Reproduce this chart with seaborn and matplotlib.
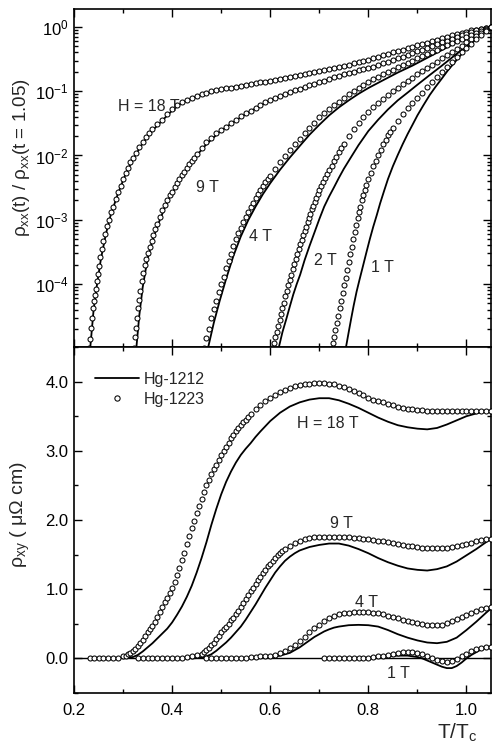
import matplotlib
matplotlib.use("Agg")
import matplotlib.pyplot as plt
import seaborn as sns
from matplotlib.lines import Line2D
from matplotlib.ticker import (LogLocator, MultipleLocator, FormatStrFormatter,
                               NullFormatter)

# ---------------------------------------------------------------------------
# Normalised longitudinal resistivity rho_xx(t)/rho_xx(t=1.05), t = T/Tc
# pairs of (t, ratio); "1212" drawn as lines, "1223" drawn as open circles
# ---------------------------------------------------------------------------
rxx_18T_1223 = [
    (0.231, 1.0e-5), (0.233, 1.4e-5), (0.235, 2.1e-5), (0.237, 3.0e-5), (0.239, 4.2e-5),
    (0.241, 5.4e-5), (0.243, 6.8e-5), (0.245, 8.5e-5), (0.247, 1.1e-4), (0.249, 1.45e-4),
    (0.251, 1.9e-4), (0.254, 2.6e-4), (0.257, 3.5e-4), (0.260, 4.6e-4), (0.264, 6.0e-4),
    (0.268, 7.9e-4), (0.272, 1.0e-3), (0.276, 1.3e-3), (0.280, 1.6e-3), (0.285, 2.1e-3),
    (0.290, 2.7e-3), (0.295, 3.4e-3), (0.300, 4.3e-3), (0.305, 5.4e-3), (0.310, 6.5e-3),
    (0.315, 7.8e-3), (0.320, 9.1e-3), (0.326, 1.1e-2), (0.333, 1.35e-2), (0.340, 1.6e-2),
    (0.347, 1.95e-2), (0.353, 2.2e-2), (0.360, 2.6e-2), (0.370, 3.1e-2), (0.380, 3.6e-2),
    (0.390, 4.4e-2), (0.400, 5.2e-2), (0.410, 6.0e-2), (0.420, 6.8e-2), (0.430, 7.4e-2),
    (0.440, 7.9e-2), (0.450, 8.5e-2), (0.460, 9.0e-2), (0.470, 9.5e-2), (0.480, 0.100),
    (0.490, 0.105), (0.500, 0.108), (0.510, 0.111), (0.520, 0.114), (0.530, 0.117),
    (0.540, 0.121), (0.550, 0.126), (0.560, 0.129), (0.570, 0.133), (0.580, 0.137),
    (0.590, 0.141), (0.600, 0.146), (0.610, 0.151), (0.620, 0.156), (0.630, 0.162),
    (0.640, 0.168), (0.650, 0.174), (0.660, 0.180), (0.670, 0.186), (0.680, 0.193),
    (0.690, 0.200), (0.700, 0.207), (0.710, 0.214), (0.720, 0.221), (0.730, 0.229),
    (0.740, 0.237), (0.750, 0.245), (0.760, 0.257), (0.770, 0.270), (0.780, 0.282),
    (0.790, 0.295), (0.800, 0.309), (0.810, 0.324), (0.820, 0.342), (0.830, 0.360),
    (0.840, 0.380), (0.850, 0.400), (0.860, 0.420), (0.870, 0.440), (0.880, 0.465),
    (0.890, 0.490), (0.900, 0.515), (0.910, 0.540), (0.920, 0.570), (0.930, 0.600),
    (0.940, 0.635), (0.950, 0.670), (0.960, 0.705), (0.970, 0.740), (0.980, 0.775),
    (0.990, 0.810), (1.000, 0.845), (1.010, 0.880), (1.020, 0.910), (1.030, 0.940),
    (1.040, 0.970), (1.050, 1.0),
]
rxx_18T_1212 = [
    (0.233, 1.0e-5), (0.240, 4.0e-5), (0.247, 1.0e-4), (0.255, 2.5e-4), (0.265, 6.0e-4),
    (0.275, 1.2e-3), (0.290, 2.6e-3), (0.305, 5.1e-3), (0.320, 8.7e-3), (0.340, 1.55e-2),
    (0.360, 2.45e-2), (0.380, 3.5e-2), (0.400, 5.0e-2), (0.420, 6.6e-2), (0.450, 8.3e-2),
    (0.500, 0.107), (0.550, 0.124), (0.600, 0.145), (0.650, 0.172), (0.700, 0.204),
    (0.750, 0.243), (0.800, 0.300), (0.850, 0.390), (0.900, 0.510), (0.950, 0.660),
    (1.000, 0.840), (1.050, 1.0),
]
rxx_9T_1223 = [
    (0.322, 1.0e-5), (0.324, 1.5e-5), (0.326, 2.1e-5), (0.328, 3.0e-5), (0.330, 4.2e-5),
    (0.332, 5.6e-5), (0.335, 7.9e-5), (0.338, 1.1e-4), (0.341, 1.5e-4), (0.344, 1.95e-4),
    (0.347, 2.45e-4), (0.350, 3.0e-4), (0.354, 3.8e-4), (0.358, 4.7e-4), (0.362, 5.8e-4),
    (0.366, 7.1e-4), (0.370, 8.7e-4), (0.375, 1.1e-3), (0.380, 1.4e-3), (0.385, 1.7e-3),
    (0.390, 2.0e-3), (0.395, 2.4e-3), (0.400, 2.75e-3), (0.405, 3.2e-3), (0.410, 3.7e-3),
    (0.415, 4.3e-3), (0.420, 4.9e-3), (0.425, 5.6e-3), (0.430, 6.5e-3), (0.435, 7.4e-3),
    (0.440, 8.3e-3), (0.445, 9.3e-3), (0.450, 1.05e-2), (0.460, 1.3e-2), (0.470, 1.6e-2),
    (0.480, 1.9e-2), (0.490, 2.25e-2), (0.500, 2.5e-2), (0.510, 2.8e-2), (0.520, 3.2e-2),
    (0.530, 3.6e-2), (0.540, 4.1e-2), (0.550, 4.5e-2), (0.560, 5.0e-2), (0.570, 5.5e-2),
    (0.580, 6.2e-2), (0.590, 6.8e-2), (0.600, 7.4e-2), (0.610, 7.9e-2), (0.620, 8.5e-2),
    (0.630, 9.1e-2), (0.640, 9.8e-2), (0.650, 0.104), (0.660, 0.110), (0.670, 0.116),
    (0.680, 0.123), (0.690, 0.130), (0.700, 0.138), (0.710, 0.146), (0.720, 0.155),
    (0.730, 0.164), (0.740, 0.174), (0.750, 0.183), (0.760, 0.193), (0.770, 0.201),
    (0.780, 0.210), (0.790, 0.220), (0.800, 0.230), (0.810, 0.242), (0.820, 0.255),
    (0.830, 0.271), (0.840, 0.288), (0.850, 0.305), (0.860, 0.324), (0.870, 0.345),
    (0.880, 0.367), (0.890, 0.391), (0.900, 0.417), (0.910, 0.444), (0.920, 0.473),
    (0.930, 0.504), (0.940, 0.537), (0.950, 0.572), (0.960, 0.610), (0.970, 0.648),
    (0.980, 0.690), (0.990, 0.736), (1.000, 0.785), (1.010, 0.832), (1.020, 0.880),
    (1.030, 0.925), (1.040, 0.966), (1.050, 1.0),
]
rxx_9T_1212 = [
    (0.327, 1.0e-5), (0.333, 3.2e-5), (0.340, 8.9e-5), (0.350, 2.5e-4), (0.360, 4.8e-4),
    (0.375, 1.0e-3), (0.390, 1.9e-3), (0.410, 3.5e-3), (0.430, 6.0e-3), (0.450, 1.0e-2),
    (0.470, 1.5e-2), (0.500, 2.45e-2), (0.530, 3.5e-2), (0.560, 4.9e-2), (0.600, 7.2e-2),
    (0.650, 0.102), (0.700, 0.136), (0.750, 0.184), (0.800, 0.224), (0.850, 0.300),
    (0.900, 0.407), (0.950, 0.562), (1.000, 0.776), (1.050, 1.0),
]
rxx_4T_1223 = [
    (0.465, 1.0e-5), (0.470, 1.45e-5), (0.475, 2.0e-5), (0.480, 2.95e-5), (0.485, 4.1e-5),
    (0.490, 5.5e-5), (0.495, 7.6e-5), (0.500, 1.0e-4), (0.505, 1.3e-4), (0.510, 1.75e-4),
    (0.515, 2.3e-4), (0.520, 2.95e-4), (0.525, 3.9e-4), (0.530, 5.0e-4), (0.535, 6.2e-4),
    (0.540, 7.4e-4), (0.545, 9.1e-4), (0.550, 1.1e-3), (0.555, 1.3e-3), (0.560, 1.6e-3),
    (0.565, 1.85e-3), (0.570, 2.15e-3), (0.575, 2.5e-3), (0.580, 2.9e-3), (0.585, 3.3e-3),
    (0.590, 3.8e-3), (0.595, 4.3e-3), (0.600, 4.8e-3), (0.610, 6.2e-3), (0.620, 7.8e-3),
    (0.630, 9.8e-3), (0.640, 1.2e-2), (0.650, 1.5e-2), (0.660, 1.8e-2), (0.670, 2.25e-2),
    (0.680, 2.7e-2), (0.690, 3.2e-2), (0.700, 3.9e-2), (0.710, 4.5e-2), (0.720, 5.2e-2),
    (0.730, 6.0e-2), (0.740, 6.9e-2), (0.750, 7.9e-2), (0.760, 8.9e-2), (0.770, 0.100),
    (0.780, 0.112), (0.790, 0.124), (0.800, 0.138), (0.810, 0.152), (0.820, 0.166),
    (0.830, 0.182), (0.840, 0.200), (0.850, 0.216), (0.860, 0.234), (0.870, 0.254),
    (0.880, 0.275), (0.890, 0.299), (0.900, 0.324), (0.910, 0.351), (0.920, 0.380),
    (0.930, 0.409), (0.940, 0.440), (0.950, 0.479), (0.960, 0.520), (0.970, 0.560),
    (0.980, 0.600), (0.990, 0.650), (1.000, 0.700), (1.010, 0.755), (1.020, 0.810),
    (1.030, 0.870), (1.040, 0.930), (1.050, 1.0),
]
rxx_4T_1212 = [
    (0.473, 1.0e-5), (0.485, 2.5e-5), (0.497, 5.5e-5), (0.510, 1.2e-4), (0.525, 2.75e-4),
    (0.540, 5.5e-4), (0.555, 9.8e-4), (0.570, 1.6e-3), (0.585, 2.5e-3), (0.600, 3.7e-3),
    (0.620, 6.0e-3), (0.640, 9.3e-3), (0.660, 1.4e-2), (0.680, 2.1e-2), (0.700, 3.0e-2),
    (0.720, 4.2e-2), (0.740, 5.6e-2), (0.760, 7.2e-2), (0.780, 9.1e-2), (0.800, 0.112),
    (0.830, 0.148), (0.860, 0.195), (0.890, 0.250), (0.920, 0.330), (0.950, 0.436),
    (0.980, 0.575), (1.010, 0.740), (1.030, 0.870), (1.050, 1.0),
]
rxx_2T_1223 = [
    (0.604, 1.0e-5), (0.607, 1.2e-5), (0.610, 1.5e-5), (0.613, 1.8e-5), (0.616, 2.2e-5),
    (0.619, 2.75e-5), (0.622, 3.4e-5), (0.625, 4.2e-5), (0.628, 5.1e-5), (0.631, 6.5e-5),
    (0.634, 7.9e-5), (0.637, 9.5e-5), (0.640, 1.15e-4), (0.643, 1.4e-4), (0.646, 1.7e-4),
    (0.649, 2.05e-4), (0.652, 2.45e-4), (0.655, 2.95e-4), (0.658, 3.5e-4), (0.661, 4.2e-4),
    (0.664, 4.9e-4), (0.667, 5.8e-4), (0.670, 6.8e-4), (0.673, 7.8e-4), (0.676, 9.1e-4),
    (0.679, 1.07e-3), (0.682, 1.23e-3), (0.685, 1.45e-3), (0.688, 1.65e-3), (0.691, 1.9e-3),
    (0.694, 2.2e-3), (0.697, 2.5e-3), (0.700, 2.9e-3), (0.704, 3.4e-3), (0.708, 3.9e-3),
    (0.712, 4.5e-3), (0.716, 5.1e-3), (0.720, 5.9e-3), (0.725, 6.9e-3), (0.730, 8.1e-3),
    (0.735, 9.5e-3), (0.740, 1.12e-2), (0.745, 1.3e-2), (0.750, 1.5e-2), (0.760, 2.0e-2),
    (0.770, 2.6e-2), (0.780, 3.2e-2), (0.790, 4.0e-2), (0.800, 4.8e-2), (0.810, 5.6e-2),
    (0.820, 6.6e-2), (0.830, 7.6e-2), (0.840, 8.7e-2), (0.850, 0.100), (0.860, 0.112),
    (0.870, 0.129), (0.880, 0.145), (0.890, 0.162), (0.900, 0.182), (0.910, 0.205),
    (0.920, 0.229), (0.930, 0.257), (0.940, 0.288), (0.950, 0.324), (0.960, 0.363),
    (0.970, 0.407), (0.980, 0.457), (0.990, 0.513), (1.000, 0.575), (1.010, 0.645),
    (1.020, 0.724), (1.030, 0.800), (1.040, 0.890), (1.050, 1.0),
]
rxx_2T_1212 = [
    (0.617, 1.0e-5), (0.625, 1.8e-5), (0.633, 2.9e-5), (0.640, 4.5e-5), (0.647, 6.9e-5),
    (0.654, 1.0e-4), (0.661, 1.4e-4), (0.670, 2.35e-4), (0.680, 3.9e-4), (0.690, 6.3e-4),
    (0.700, 1.02e-3), (0.710, 1.6e-3), (0.720, 2.3e-3), (0.730, 3.2e-3), (0.740, 4.5e-3),
    (0.750, 6.2e-3), (0.765, 9.5e-3), (0.780, 1.45e-2), (0.800, 2.4e-2), (0.820, 3.6e-2),
    (0.840, 5.2e-2), (0.860, 7.2e-2), (0.880, 9.5e-2), (0.900, 0.126), (0.925, 0.178),
    (0.950, 0.250), (0.975, 0.355), (1.000, 0.500), (1.025, 0.710), (1.050, 1.0),
]
rxx_1T_1223 = [
    (0.727, 1.2e-5), (0.730, 1.5e-5), (0.733, 1.95e-5), (0.736, 2.5e-5), (0.739, 3.2e-5),
    (0.742, 4.2e-5), (0.745, 5.5e-5), (0.748, 7.2e-5), (0.751, 9.5e-5), (0.754, 1.26e-4),
    (0.757, 1.65e-4), (0.760, 2.2e-4), (0.763, 2.9e-4), (0.766, 3.8e-4), (0.769, 5.0e-4),
    (0.772, 6.5e-4), (0.775, 8.3e-4), (0.778, 1.05e-3), (0.781, 1.3e-3), (0.784, 1.6e-3),
    (0.787, 2.0e-3), (0.790, 2.4e-3), (0.793, 2.9e-3), (0.796, 3.5e-3), (0.800, 4.3e-3),
    (0.805, 5.4e-3), (0.810, 6.8e-3), (0.815, 8.3e-3), (0.820, 1.02e-2), (0.825, 1.23e-2),
    (0.830, 1.5e-2), (0.835, 1.75e-2), (0.840, 2.05e-2), (0.845, 2.35e-2), (0.850, 2.7e-2),
    (0.860, 3.5e-2), (0.870, 4.4e-2), (0.880, 5.4e-2), (0.890, 6.6e-2), (0.900, 7.9e-2),
    (0.910, 9.5e-2), (0.920, 0.115), (0.930, 0.138), (0.940, 0.166), (0.950, 0.200),
    (0.960, 0.240), (0.970, 0.280), (0.980, 0.340), (0.990, 0.400), (1.000, 0.470),
    (1.010, 0.550), (1.020, 0.650), (1.030, 0.760), (1.040, 0.870), (1.050, 1.0),
]
rxx_1T_1212 = [
    (0.754, 1.0e-5), (0.760, 1.8e-5), (0.765, 2.9e-5), (0.770, 4.6e-5), (0.776, 7.6e-5),
    (0.782, 1.17e-4), (0.789, 1.9e-4), (0.796, 3.1e-4), (0.803, 5.0e-4), (0.810, 7.8e-4),
    (0.817, 1.17e-3), (0.824, 1.8e-3), (0.832, 2.8e-3), (0.840, 4.3e-3), (0.850, 6.8e-3),
    (0.860, 1.02e-2), (0.870, 1.5e-2), (0.880, 2.15e-2), (0.890, 3.0e-2), (0.900, 4.2e-2),
    (0.912, 6.0e-2), (0.925, 8.7e-2), (0.937, 0.117), (0.950, 0.158), (0.962, 0.210),
    (0.975, 0.275), (0.987, 0.355), (1.000, 0.457), (1.013, 0.575), (1.025, 0.710),
    (1.038, 0.850), (1.050, 1.0),
]

# ---------------------------------------------------------------------------
# Hall resistivity rho_xy in micro-ohm cm, pairs of (t, rho_xy)
# ---------------------------------------------------------------------------
rxy_18T_1223 = [
    (0.233, 0.0), (0.240, 0.0), (0.250, 0.0), (0.260, 0.0), (0.270, 0.0), (0.280, 0.005),
    (0.290, 0.01), (0.300, 0.03), (0.305, 0.04), (0.310, 0.06), (0.315, 0.08), (0.320, 0.11),
    (0.325, 0.14), (0.330, 0.18), (0.335, 0.22), (0.340, 0.27), (0.345, 0.32), (0.350, 0.38),
    (0.355, 0.42), (0.360, 0.47), (0.365, 0.53), (0.370, 0.60), (0.375, 0.67), (0.380, 0.74),
    (0.385, 0.81), (0.390, 0.88), (0.395, 0.95), (0.400, 1.02), (0.405, 1.11), (0.410, 1.20),
    (0.415, 1.31), (0.420, 1.42), (0.425, 1.53), (0.430, 1.65), (0.435, 1.77), (0.440, 1.88),
    (0.445, 1.99), (0.450, 2.10), (0.455, 2.20), (0.460, 2.30), (0.465, 2.40), (0.470, 2.50),
    (0.475, 2.58), (0.480, 2.66), (0.485, 2.73), (0.490, 2.80), (0.495, 2.87), (0.500, 2.94),
    (0.505, 3.00), (0.510, 3.06), (0.515, 3.12), (0.520, 3.18), (0.525, 3.23), (0.530, 3.28),
    (0.535, 3.33), (0.540, 3.37), (0.545, 3.41), (0.550, 3.45), (0.555, 3.49), (0.560, 3.53),
    (0.570, 3.60), (0.580, 3.66), (0.590, 3.72), (0.600, 3.77), (0.610, 3.81), (0.620, 3.85),
    (0.630, 3.88), (0.640, 3.91), (0.650, 3.93), (0.660, 3.95), (0.670, 3.96), (0.680, 3.97),
    (0.690, 3.98), (0.700, 3.98), (0.710, 3.98), (0.720, 3.97), (0.730, 3.96), (0.740, 3.94),
    (0.750, 3.92), (0.760, 3.89), (0.770, 3.86), (0.780, 3.83), (0.790, 3.80), (0.800, 3.77),
    (0.810, 3.74), (0.820, 3.72), (0.830, 3.70), (0.840, 3.68), (0.850, 3.66), (0.860, 3.64),
    (0.870, 3.62), (0.880, 3.61), (0.890, 3.60), (0.900, 3.59), (0.910, 3.585), (0.920, 3.58),
    (0.930, 3.58), (0.940, 3.58), (0.950, 3.58), (0.960, 3.58), (0.970, 3.575), (0.980, 3.57),
    (0.990, 3.57), (1.000, 3.57), (1.010, 3.57), (1.020, 3.57), (1.030, 3.57), (1.040, 3.57),
    (1.050, 3.57),
]
rxy_18T_1212 = [
    (0.300, 0.0), (0.310, 0.01), (0.320, 0.02), (0.330, 0.05), (0.340, 0.10), (0.350, 0.16),
    (0.360, 0.22), (0.370, 0.29), (0.380, 0.36), (0.390, 0.43), (0.400, 0.52), (0.410, 0.63),
    (0.420, 0.75), (0.430, 0.89), (0.440, 1.05), (0.450, 1.24), (0.460, 1.45), (0.470, 1.68),
    (0.480, 1.93), (0.490, 2.16), (0.500, 2.37), (0.510, 2.55), (0.520, 2.70), (0.530, 2.83),
    (0.540, 2.94), (0.550, 3.03), (0.560, 3.11), (0.570, 3.20), (0.580, 3.28), (0.600, 3.43),
    (0.620, 3.55), (0.640, 3.64), (0.660, 3.70), (0.680, 3.74), (0.700, 3.76), (0.720, 3.76),
    (0.740, 3.73), (0.760, 3.68), (0.780, 3.62), (0.800, 3.55), (0.820, 3.48), (0.840, 3.42),
    (0.860, 3.37), (0.880, 3.34), (0.900, 3.32), (0.920, 3.31), (0.940, 3.33), (0.960, 3.38),
    (0.980, 3.44), (1.000, 3.50), (1.020, 3.54), (1.040, 3.57), (1.050, 3.57),
]
rxy_9T_1223 = [
    (0.330, 0.0), (0.340, 0.0), (0.350, 0.0), (0.360, 0.0), (0.370, 0.0), (0.380, 0.0),
    (0.390, 0.0), (0.400, 0.0), (0.410, 0.005), (0.420, 0.01), (0.430, 0.02), (0.440, 0.03),
    (0.450, 0.05), (0.460, 0.07), (0.465, 0.09), (0.470, 0.12), (0.475, 0.15), (0.480, 0.19),
    (0.485, 0.23), (0.490, 0.28), (0.495, 0.33), (0.500, 0.38), (0.505, 0.42), (0.510, 0.46),
    (0.515, 0.50), (0.520, 0.55), (0.525, 0.59), (0.530, 0.64), (0.535, 0.69), (0.540, 0.75),
    (0.545, 0.80), (0.550, 0.86), (0.555, 0.91), (0.560, 0.97), (0.565, 1.02), (0.570, 1.08),
    (0.575, 1.13), (0.580, 1.18), (0.585, 1.23), (0.590, 1.28), (0.595, 1.33), (0.600, 1.37),
    (0.605, 1.41), (0.610, 1.45), (0.615, 1.49), (0.620, 1.52), (0.625, 1.55), (0.630, 1.58),
    (0.640, 1.63), (0.650, 1.67), (0.660, 1.70), (0.670, 1.72), (0.680, 1.74), (0.690, 1.75),
    (0.700, 1.755), (0.710, 1.76), (0.720, 1.76), (0.730, 1.76), (0.740, 1.76), (0.750, 1.755),
    (0.760, 1.75), (0.770, 1.745), (0.780, 1.74), (0.790, 1.73), (0.800, 1.72), (0.810, 1.71),
    (0.820, 1.70), (0.830, 1.69), (0.840, 1.68), (0.850, 1.67), (0.860, 1.66), (0.870, 1.645),
    (0.880, 1.63), (0.890, 1.62), (0.900, 1.61), (0.910, 1.60), (0.920, 1.59), (0.930, 1.59),
    (0.940, 1.59), (0.950, 1.595), (0.960, 1.60), (0.970, 1.61), (0.980, 1.62), (0.990, 1.64),
    (1.000, 1.66), (1.010, 1.675), (1.020, 1.69), (1.030, 1.705), (1.040, 1.72), (1.050, 1.73),
]
rxy_9T_1212 = [
    (0.440, 0.0), (0.460, 0.01), (0.470, 0.03), (0.480, 0.06), (0.490, 0.11), (0.500, 0.17),
    (0.510, 0.23), (0.520, 0.30), (0.530, 0.38), (0.540, 0.46), (0.550, 0.56), (0.560, 0.67),
    (0.570, 0.78), (0.580, 0.90), (0.590, 1.02), (0.600, 1.13), (0.610, 1.24), (0.620, 1.33),
    (0.630, 1.41), (0.640, 1.47), (0.650, 1.52), (0.660, 1.56), (0.680, 1.61), (0.700, 1.64),
    (0.720, 1.66), (0.740, 1.66), (0.760, 1.63), (0.780, 1.58), (0.800, 1.52), (0.820, 1.45),
    (0.840, 1.39), (0.860, 1.34), (0.880, 1.30), (0.900, 1.28), (0.920, 1.27), (0.940, 1.29),
    (0.960, 1.33), (0.980, 1.40), (1.000, 1.49), (1.020, 1.58), (1.040, 1.68), (1.050, 1.73),
]
rxy_4T_1223 = [
    (0.470, 0.0), (0.480, 0.0), (0.490, 0.0), (0.500, 0.0), (0.510, 0.0), (0.520, 0.0),
    (0.530, 0.0), (0.540, 0.005), (0.550, 0.01), (0.560, 0.015), (0.570, 0.02), (0.580, 0.03),
    (0.590, 0.035), (0.600, 0.04), (0.610, 0.05), (0.620, 0.08), (0.630, 0.11), (0.640, 0.15),
    (0.650, 0.20), (0.660, 0.25), (0.670, 0.31), (0.680, 0.38), (0.690, 0.44), (0.700, 0.49),
    (0.710, 0.54), (0.720, 0.58), (0.730, 0.61), (0.740, 0.635), (0.750, 0.65), (0.760, 0.66),
    (0.770, 0.67), (0.780, 0.675), (0.790, 0.675), (0.800, 0.67), (0.810, 0.66), (0.820, 0.65),
    (0.830, 0.635), (0.840, 0.62), (0.850, 0.60), (0.860, 0.58), (0.870, 0.56), (0.880, 0.54),
    (0.890, 0.525), (0.900, 0.51), (0.910, 0.50), (0.920, 0.49), (0.930, 0.485), (0.940, 0.485),
    (0.950, 0.49), (0.960, 0.51), (0.970, 0.54), (0.980, 0.57), (0.990, 0.60), (1.000, 0.63),
    (1.010, 0.66), (1.020, 0.69), (1.030, 0.71), (1.040, 0.73), (1.050, 0.74),
]
rxy_4T_1212 = [
    (0.550, 0.0), (0.580, 0.01), (0.600, 0.02), (0.620, 0.04), (0.630, 0.06), (0.640, 0.08),
    (0.650, 0.12), (0.660, 0.16), (0.670, 0.21), (0.680, 0.26), (0.690, 0.31), (0.700, 0.35),
    (0.710, 0.39), (0.720, 0.42), (0.730, 0.445), (0.740, 0.46), (0.750, 0.47), (0.760, 0.48),
    (0.780, 0.485), (0.800, 0.48), (0.820, 0.46), (0.840, 0.41), (0.860, 0.35), (0.880, 0.30),
    (0.900, 0.26), (0.920, 0.23), (0.940, 0.22), (0.960, 0.24), (0.980, 0.30), (1.000, 0.41),
    (1.020, 0.53), (1.040, 0.66), (1.050, 0.72),
]
rxy_1T_1223 = [
    (0.710, 0.0), (0.720, 0.0), (0.730, 0.0), (0.740, 0.0), (0.750, 0.0), (0.760, 0.0),
    (0.770, 0.0), (0.780, 0.005), (0.790, 0.005), (0.800, 0.01), (0.810, 0.02), (0.820, 0.03),
    (0.830, 0.04), (0.840, 0.05), (0.850, 0.065), (0.860, 0.08), (0.870, 0.09), (0.880, 0.095),
    (0.890, 0.09), (0.900, 0.08), (0.910, 0.06), (0.920, 0.04), (0.930, 0.01), (0.940, -0.02),
    (0.950, -0.04), (0.960, -0.05), (0.970, -0.04), (0.980, -0.01), (0.990, 0.03), (1.000, 0.07),
    (1.010, 0.10), (1.020, 0.13), (1.030, 0.15), (1.040, 0.165), (1.050, 0.17),
]
rxy_1T_1212 = [
    (0.720, 0.0), (0.760, 0.0), (0.800, 0.01), (0.840, 0.03), (0.860, 0.04), (0.880, 0.04),
    (0.900, 0.02), (0.910, 0.0), (0.920, -0.03), (0.930, -0.06), (0.940, -0.09), (0.950, -0.12),
    (0.960, -0.14), (0.970, -0.14), (0.980, -0.11), (0.990, -0.06), (1.000, 0.0), (1.010, 0.05),
    (1.020, 0.09), (1.030, 0.13), (1.040, 0.155), (1.050, 0.17),
]

# curve labels: (text, t, value)
top_labels = [("H = 18 T", 0.290, 0.0575), ("9 T", 0.449, 3.2e-3), ("4 T", 0.557, 5.4e-4),
              ("2 T", 0.690, 2.3e-4), ("1 T", 0.806, 1.8e-4)]
bottom_labels = [("H = 18 T", 0.655, 3.40), ("9 T", 0.722, 1.95), ("4 T", 0.773, 0.815),
                 ("1 T", 0.839, -0.22)]
legend_names = ["Hg-1212", "Hg-1223"]

sns.set_theme(style="ticks")
plt.rcParams["font.family"] = ["Liberation Sans", "DejaVu Sans"]
plt.rcParams["mathtext.fontset"] = "custom"
plt.rcParams["mathtext.rm"] = "Liberation Sans"
plt.rcParams["mathtext.it"] = "Liberation Sans:italic"
plt.rcParams["mathtext.bf"] = "Liberation Sans:bold"
plt.rcParams["axes.linewidth"] = 1.2

fig = plt.figure(figsize=(4.95, 7.48), dpi=100)
ax_top = fig.add_axes([0.1495, 0.5361, 0.8424, 0.4519])
ax_bot = fig.add_axes([0.1495, 0.0735, 0.8424, 0.4626], sharex=ax_top)

ax_top.set_yscale("log")


def draw_pair(ax, line_pts, circ_pts):
    lx, ly = zip(*line_pts)
    cx, cy = zip(*circ_pts)
    sns.lineplot(x=list(lx), y=list(ly), ax=ax, color="black", linewidth=1.3,
                 sort=False, estimator=None, zorder=2)
    sns.scatterplot(x=list(cx), y=list(cy), ax=ax, marker="o", s=13, color="white",
                    edgecolor="black", linewidth=0.75, zorder=3)


for line_pts, circ_pts in [(rxx_18T_1212, rxx_18T_1223), (rxx_9T_1212, rxx_9T_1223),
                           (rxx_4T_1212, rxx_4T_1223), (rxx_2T_1212, rxx_2T_1223),
                           (rxx_1T_1212, rxx_1T_1223)]:
    draw_pair(ax_top, line_pts, circ_pts)

ax_bot.axhline(0.0, color="black", linewidth=1.0, zorder=1)
for line_pts, circ_pts in [(rxy_18T_1212, rxy_18T_1223), (rxy_9T_1212, rxy_9T_1223),
                           (rxy_4T_1212, rxy_4T_1223), (rxy_1T_1212, rxy_1T_1223)]:
    draw_pair(ax_bot, line_pts, circ_pts)

for text, tx, ty in top_labels:
    ax_top.text(tx, ty, text, ha="left", va="center", fontsize=11.5, zorder=4)
for text, tx, ty in bottom_labels:
    ax_bot.text(tx, ty, text, ha="left", va="center", fontsize=11.5, zorder=4)

# axes ranges and ticks
ax_top.set_xlim(0.2, 1.05)
ax_top.set_ylim(1.05e-5, 1.9)
ax_bot.set_ylim(-0.5, 4.5)

ax_top.yaxis.set_major_locator(LogLocator(base=10, numticks=12))
ax_top.yaxis.set_minor_locator(LogLocator(base=10, subs=range(2, 10), numticks=12))
ax_top.yaxis.set_minor_formatter(NullFormatter())
ax_bot.xaxis.set_major_locator(MultipleLocator(0.2))
ax_bot.xaxis.set_minor_locator(MultipleLocator(0.1))
ax_bot.xaxis.set_major_formatter(FormatStrFormatter("%.1f"))
ax_bot.yaxis.set_major_locator(MultipleLocator(1.0))
ax_bot.yaxis.set_minor_locator(MultipleLocator(0.5))
ax_bot.yaxis.set_major_formatter(FormatStrFormatter("%.1f"))

for ax in (ax_top, ax_bot):
    ax.tick_params(which="both", direction="in", top=True, right=True,
                   width=1.0, labelsize=12, color="black", labelcolor="black")
    ax.tick_params(which="major", length=6)
    ax.tick_params(which="minor", length=3)
    ax.tick_params(axis="y", pad=4)
    ax.tick_params(axis="x", pad=7)
    for sp in ax.spines.values():
        sp.set_color("black")
        sp.set_linewidth(1.2)
ax_top.tick_params(axis="x", labelbottom=False)

ax_top.set_ylabel(r"ρ$_\mathregular{xx}$(t) / ρ$_\mathregular{xx}$(t = 1.05)", fontsize=13.5)
ax_bot.set_ylabel(r"ρ$_\mathregular{xy}$ ( μΩ cm)", fontsize=14)
ax_bot.set_xlabel(r"T/T$_\mathregular{c}$", fontsize=15)
ax_top.yaxis.set_label_coords(-0.10, 0.56)
ax_bot.yaxis.set_label_coords(-0.10, 0.515)
ax_bot.xaxis.set_label_coords(0.92, -0.082)

handles = [Line2D([], [], color="black", linewidth=1.3),
           Line2D([], [], linestyle="none", marker="o", markersize=3.8,
                  markerfacecolor="white", markeredgecolor="black", markeredgewidth=0.75)]
ax_bot.legend(handles, legend_names, loc="upper left", bbox_to_anchor=(0.015, 0.97),
              frameon=False, fontsize=11.5, handlelength=2.8, handletextpad=0.3,
              labelspacing=0.3, numpoints=1)

fig.savefig("out.png", dpi=100)
